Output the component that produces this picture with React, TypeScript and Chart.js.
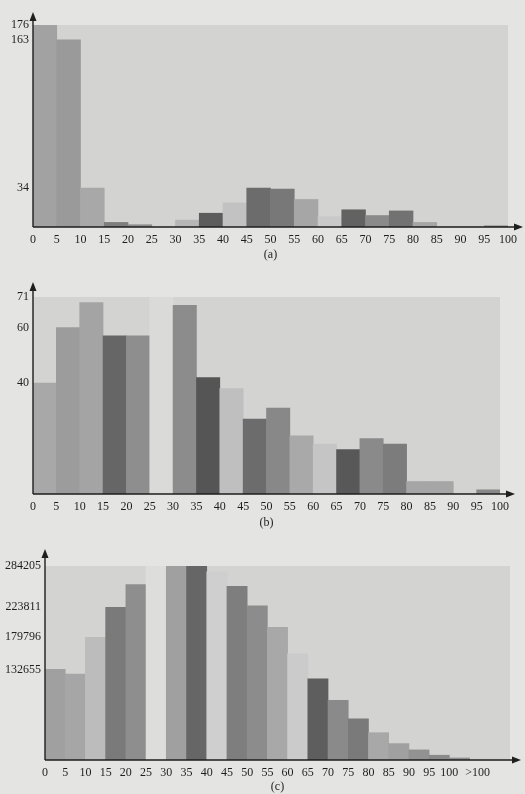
import React, { useEffect, useRef } from "react";
import { Chart, registerables } from "chart.js";

Chart.register(...registerables);

const FONT = "'Liberation Serif', 'DejaVu Serif', serif";
const PAGE_BG = "#e4e4e2";
const PLOT_BG = "#d3d3d1";
const INK = "#1e1e1e";

// ---------- data (a) ----------
const binStartsA = [0, 5, 10, 15, 20, 25, 30, 35, 40, 45, 50, 55, 60, 65, 70, 75, 80, 85, 90, 95];
const countsA = [176, 163, 34, 4, 2, 0, 6, 12, 21, 34, 33, 24, 9, 15, 10, 14, 4, 0, 0, 1];
const yTicksA = [34, 163, 176];
const xTicksA = [0, 5, 10, 15, 20, 25, 30, 35, 40, 45, 50, 55, 60, 65, 70, 75, 80, 85, 90, 95, 100];
const shadesA = ["#a2a2a2", "#9a9a9a", "#a8a8a8", "#7e7e7e", "#8e8e8e", "#c6c6c6", "#b6b6b6", "#5c5c5c", "#c2c2c2", "#6c6c6c", "#787878", "#a6a6a6", "#c9c9c9", "#626262", "#8a8a8a", "#727272", "#a6a6a6", "#bdbdbd", "#bdbdbd", "#7e7e7e"];

// ---------- data (b) ----------
const binStartsB = [0, 5, 10, 15, 20, 25, 30, 35, 40, 45, 50, 55, 60, 65, 70, 75, 80, 85, 90, 95];
const countsB = [40, 60, 69, 57, 57, 71, 68, 42, 38, 27, 31, 21, 18, 16, 20, 18, 4.5, 4.5, 0, 1.5];
const yTicksB = [40, 60, 71];
const xTicksB = [0, 5, 10, 15, 20, 25, 30, 35, 40, 45, 50, 55, 60, 65, 70, 75, 80, 85, 90, 95, 100];
const shadesB = ["#a8a8a8", "#9c9c9c", "#a4a4a4", "#666666", "#8e8e8e", "#dadad8", "#8c8c8c", "#555555", "#bfbfbf", "#6c6c6c", "#888888", "#a9a9a9", "#c5c5c5", "#585858", "#8a8a8a", "#7c7c7c", "#a6a6a6", "#a6a6a6", "#a6a6a6", "#888888"];

// ---------- data (c) ----------
const binStartsC = [0, 5, 10, 15, 20, 25, 30, 35, 40, 45, 50, 55, 60, 65, 70, 75, 80, 85, 90, 95, 100];
const countsC = [132655, 126000, 179796, 223811, 257000, 284205, 284205, 284205, 275500, 254600, 226000, 194300, 155400, 118900, 87300, 60200, 40000, 24000, 14800, 7000, 3000];
const yTicksC = [132655, 179796, 223811, 284205];
const xTicksC = [0, 5, 10, 15, 20, 25, 30, 35, 40, 45, 50, 55, 60, 65, 70, 75, 80, 85, 90, 95, 100, 107];
const xTickTextC = ["0", "5", "10", "15", "20", "25", "30", "35", "40", "45", "50", "55", "60", "65", "70", "75", "80", "85", "90", "95", "100", ">100"];
const shadesC = ["#a0a0a0", "#a6a6a6", "#bcbcbc", "#7a7a7a", "#8e8e8e", "#dddddb", "#a0a0a0", "#666666", "#cfcfcf", "#7e7e7e", "#8c8c8c", "#a8a8a8", "#cbcbcb", "#5e5e5e", "#8a8a8a", "#7a7a7a", "#a8a8a8", "#a0a0a0", "#929292", "#8a8a8a", "#909090"];

const BIN = 5;

const framePlugin = {
  id: "histFrame",
  beforeDraw(chart: any) {
    const { ctx, chartArea: a } = chart;
    ctx.save();
    ctx.fillStyle = PLOT_BG;
    ctx.fillRect(a.left, a.top, a.right - a.left, a.bottom - a.top);
    ctx.restore();
  },
  afterDatasetsDraw(chart: any, _args: any, opts: any) {
    const { ctx, chartArea: a } = chart;
    const xTip = a.right + (opts.xExt || 12);
    const yTip = a.top - (opts.yExt || 12);
    ctx.save();
    ctx.strokeStyle = INK;
    ctx.fillStyle = INK;
    ctx.lineWidth = 1.4;
    ctx.beginPath();
    ctx.moveTo(a.left, a.bottom);
    ctx.lineTo(xTip - 6, a.bottom);
    ctx.moveTo(a.left, a.bottom);
    ctx.lineTo(a.left, yTip + 6);
    ctx.stroke();
    ctx.beginPath();
    ctx.moveTo(xTip, a.bottom);
    ctx.lineTo(xTip - 9, a.bottom - 3.5);
    ctx.lineTo(xTip - 9, a.bottom + 3.5);
    ctx.closePath();
    ctx.fill();
    ctx.beginPath();
    ctx.moveTo(a.left, yTip);
    ctx.lineTo(a.left - 3.5, yTip + 9);
    ctx.lineTo(a.left + 3.5, yTip + 9);
    ctx.closePath();
    ctx.fill();
    ctx.restore();
  },
};

type Spec = {
  starts: number[];
  counts: number[];
  shades: string[];
  yTicks: number[];
  xTicks: number[];
  xText?: string[];
  xMax: number;
  title: string;
  yAxisWidth: number;
  xAxisHeight: number;
  padTop: number;
  padRight: number;
  xExt: number;
  yExt: number;
};

function buildConfig(s: Spec): any {
  const yMax = Math.max(...s.yTicks);
  return {
    type: "bar",
    data: {
      datasets: [
        {
          data: s.starts.map((st, i) => ({ x: st + BIN / 2, y: s.counts[i] })),
          backgroundColor: s.shades,
          borderWidth: 0,
          barPercentage: 1,
          categoryPercentage: 1,
        },
      ],
    },
    plugins: [framePlugin],
    options: {
      animation: false,
      responsive: false,
      maintainAspectRatio: false,
      layout: { padding: { top: s.padTop, right: s.padRight, left: 0, bottom: 0 } },
      plugins: {
        legend: { display: false },
        tooltip: { enabled: false },
        histFrame: { xExt: s.xExt, yExt: s.yExt },
      },
      scales: {
        x: {
          type: "linear",
          min: 0,
          max: s.xMax,
          offset: false,
          grid: { display: false, drawTicks: false },
          border: { display: false },
          ticks: {
            autoSkip: false,
            maxRotation: 0,
            minRotation: 0,
            padding: 6,
            color: INK,
            font: { family: FONT, size: 12 },
            callback: (v: number) => {
              const idx = s.xTicks.indexOf(v);
              if (s.xText && idx >= 0) return s.xText[idx];
              return String(v);
            },
          },
          afterBuildTicks: (scale: any) => {
            scale.ticks = s.xTicks.map((v) => ({ value: v }));
          },
          afterFit: (scale: any) => {
            scale.height = s.xAxisHeight;
          },
          title: {
            display: true,
            text: s.title,
            color: INK,
            font: { family: FONT, size: 12 },
            padding: { top: 0, bottom: 0 },
          },
        },
        y: {
          type: "linear",
          min: 0,
          max: yMax,
          grid: { display: false, drawTicks: false },
          border: { display: false },
          ticks: {
            autoSkip: false,
            padding: 4,
            color: INK,
            font: { family: FONT, size: 12 },
            callback: (v: number) => String(v),
          },
          afterBuildTicks: (scale: any) => {
            scale.ticks = s.yTicks.map((v) => ({ value: v }));
          },
          afterFit: (scale: any) => {
            scale.width = s.yAxisWidth;
          },
        },
      },
    },
  };
}

function Hist({ spec, top, height }: { spec: Spec; top: number; height: number }) {
  const ref = useRef<HTMLCanvasElement | null>(null);
  useEffect(() => {
    if (!ref.current) return;
    const chart = new Chart(ref.current, buildConfig(spec));
    return () => chart.destroy();
  }, [spec]);
  return (
    <canvas
      ref={ref}
      width={525}
      height={height}
      style={{ position: "absolute", left: 0, top, width: 525, height }}
    />
  );
}

const specA: Spec = {
  starts: binStartsA, counts: countsA, shades: shadesA, yTicks: yTicksA, xTicks: xTicksA,
  xMax: 100, title: "(a)", yAxisWidth: 33, xAxisHeight: 35, padTop: 25, padRight: 17, xExt: 15, yExt: 13,
};
const specB: Spec = {
  starts: binStartsB, counts: countsB, shades: shadesB, yTicks: yTicksB, xTicks: xTicksB,
  xMax: 100, title: "(b)", yAxisWidth: 33, xAxisHeight: 36, padTop: 35, padRight: 25, xExt: 15, yExt: 15,
};
const specC: Spec = {
  starts: binStartsC, counts: countsC, shades: shadesC, yTicks: yTicksC, xTicks: xTicksC, xText: xTickTextC,
  xMax: 115, title: "(c)", yAxisWidth: 45, xAxisHeight: 34, padTop: 36, padRight: 15, xExt: 11, yExt: 17,
};

export default function App() {
  return (
    <div style={{ position: "absolute", left: 0, top: 0, width: 525, height: 794, background: PAGE_BG, overflow: "hidden" }}>
      <Hist spec={specA} top={0} height={262} />
      <Hist spec={specB} top={262} height={268} />
      <Hist spec={specC} top={530} height={264} />
    </div>
  );
}
